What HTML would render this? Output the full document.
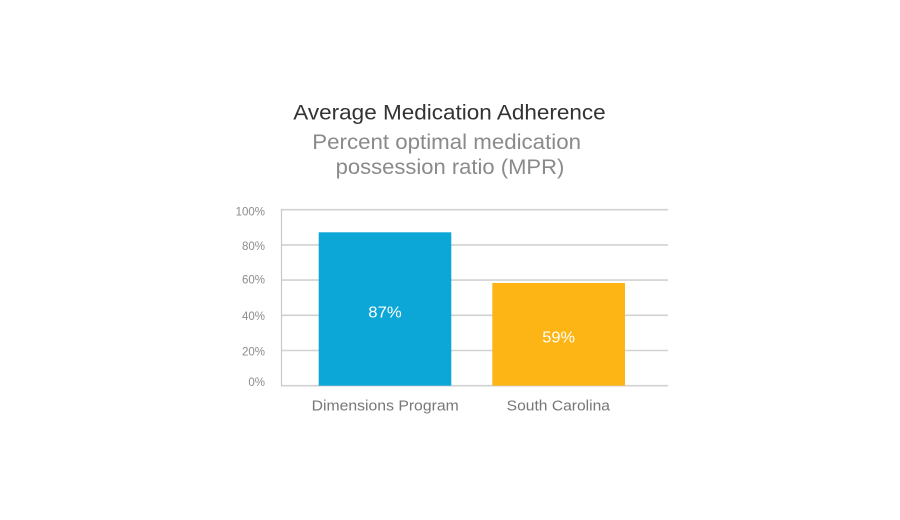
<!DOCTYPE html>
<html>
<head>
<meta charset="utf-8">
<style>
  html, body { margin: 0; padding: 0; background: #ffffff; }
  body { width: 900px; height: 520px; overflow: hidden; }
  svg { display: block; }
  text { font-family: "Liberation Sans", sans-serif; }
</style>
</head>
<body>
<svg width="900" height="520" viewBox="0 0 900 520" xmlns="http://www.w3.org/2000/svg">
  <rect x="0" y="0" width="900" height="520" fill="#ffffff"/>

  <!-- Titles -->
  <text x="293.3" y="119.3" font-size="21" fill="#333333" textLength="312.4" lengthAdjust="spacingAndGlyphs">Average Medication Adherence</text>
  <text x="312.3" y="149" font-size="21" fill="#8a8a8a" textLength="268.7" lengthAdjust="spacingAndGlyphs">Percent optimal medication</text>
  <text x="335.7" y="174" font-size="21" fill="#8a8a8a" textLength="228.6" lengthAdjust="spacingAndGlyphs">possession ratio (MPR)</text>

  <!-- Gridlines -->
  <g stroke="#d2d2d2" stroke-width="1.6">
    <line x1="281" y1="209.7" x2="668" y2="209.7"/>
    <line x1="281" y1="244.9" x2="668" y2="244.9"/>
    <line x1="281" y1="280.1" x2="668" y2="280.1"/>
    <line x1="281" y1="315.3" x2="668" y2="315.3"/>
    <line x1="281" y1="350.5" x2="668" y2="350.5"/>
    <line x1="281" y1="385.7" x2="668" y2="385.7"/>
  </g>
  <line x1="281.5" y1="209" x2="281.5" y2="386.5" stroke="#c8c8c8" stroke-width="1.2"/>

  <!-- Y tick labels -->
  <g font-size="11.5" fill="#8c8c8c" text-anchor="end">
    <text x="265" y="215.5">100%</text>
    <text x="265" y="250">80%</text>
    <text x="265" y="283.5">60%</text>
    <text x="265" y="320">40%</text>
    <text x="265" y="355.3">20%</text>
    <text x="265" y="386">0%</text>
  </g>

  <!-- Bars -->
  <rect x="318.7" y="232.3" width="132.6" height="153.4" fill="#0ca6d7"/>
  <rect x="492.3" y="283" width="132.7" height="102.7" fill="#fcb515"/>

  <!-- Bar labels -->
  <text x="368.3" y="317.7" font-size="16" fill="#ffffff" textLength="33.4" lengthAdjust="spacingAndGlyphs">87%</text>
  <text x="542.3" y="342.7" font-size="16" fill="#ffffff" textLength="32.7" lengthAdjust="spacingAndGlyphs">59%</text>

  <!-- X labels -->
  <text x="311.7" y="410.7" font-size="15" fill="#777777" textLength="147" lengthAdjust="spacingAndGlyphs">Dimensions Program</text>
  <text x="506.7" y="410.7" font-size="15" fill="#777777" textLength="103.3" lengthAdjust="spacingAndGlyphs">South Carolina</text>
</svg>
</body>
</html>
